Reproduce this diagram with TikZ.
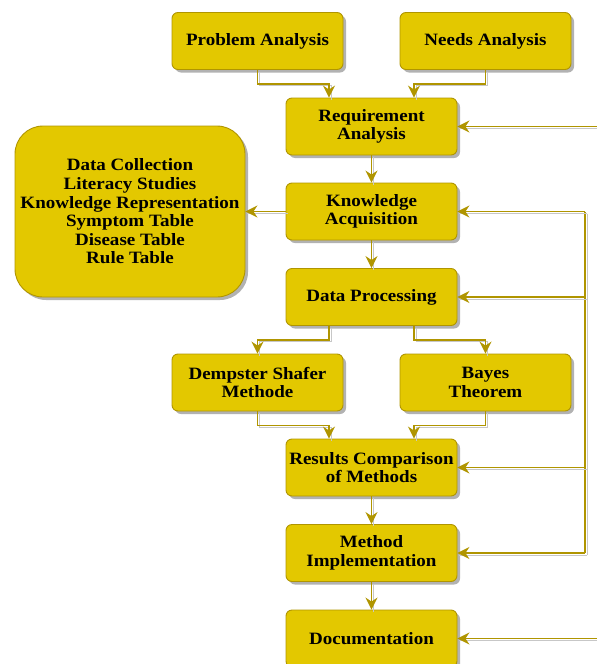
\documentclass[tikz,border=0pt]{standalone}
\usepackage{fontspec}
\setmainfont{Liberation Serif}[FakeStretch=1.1]
\usetikzlibrary{arrows.meta,shadows,positioning}
\definecolor{boxfill}{HTML}{E3C800}
\definecolor{boxline}{HTML}{B09500}
\tikzset{
  box/.style={rectangle, rounded corners=6pt, draw=boxline, fill=boxfill, line width=0.9pt,
    minimum width=171pt, minimum height=57pt, inner sep=2pt, align=center,
    font=\fontsize{17.3}{18.6}\selectfont\bfseries,
    drop shadow={shadow xshift=3pt, shadow yshift=-3pt, opacity=0.3, fill=black}},
  bigbox/.style={box, rounded corners=28pt, minimum width=230pt, minimum height=171pt},
  conn/.style={draw=boxline, line width=1.1pt, -{Stealth[length=12pt,width=12pt,inset=4pt]},
    preaction={draw=black!22, line width=1pt, -, transform canvas={xshift=2pt,yshift=-2pt}}},
}
\begin{document}
\begin{tikzpicture}[x=1pt,y=-1pt]
\useasboundingbox (0,0) rectangle (597,664);
\node[box] (PA) at (257.5,41) {Problem Analysis};
\node[box] (NA) at (485.5,41) {Needs Analysis};
\node[box] (RA) at (371.5,126.5) {Requirement\\Analysis};
\node[box] (KA) at (371.5,211.5) {Knowledge\\Acquisition};
\node[bigbox] (BB) at (130,211.5) {Data Collection\\Literacy Studies\\Knowledge Representation\\Symptom Table\\Disease Table\\Rule Table};
\node[box] (DP) at (371.5,297) {Data Processing};
\node[box] (DS) at (257.5,382.5) {Dempster Shafer\\Methode};
\node[box] (BT) at (485.5,382.5) {Bayes\\Theorem};
\node[box] (RC) at (371.5,467.5) {Results Comparison\\of Methods};
\node[box] (MI) at (371.5,553) {Method\\Implementation};
\node[box] (DOC) at (371.5,638.5) {Documentation};
\coordinate (edge) at (597,0);
\coordinate (bus) at (585,0);
% top
\draw[conn] (PA.south) -- ++(0,14) -| ([xshift=-42.5pt]RA.north);
\draw[conn] (NA.south) -- ++(0,14) -| ([xshift=42.5pt]RA.north);
\draw[conn] (edge |- RA.east) -- (RA.east);
\draw[conn] (RA.south) -- (KA.north);
\draw[conn] (KA.west) -- (BB.east);
\draw[conn] (KA.south) -- (DP.north);
\draw[conn] ([xshift=-42.5pt]DP.south) -- ++(0,14) -| (DS.north);
\draw[conn] ([xshift=42.5pt]DP.south) -- ++(0,14) -| (BT.north);
\draw[conn] (DS.south) -- ++(0,14) -| ([xshift=-42.5pt]RC.north);
\draw[conn] (BT.south) -- ++(0,14) -| ([xshift=42.5pt]RC.north);
\draw[conn] (RC.south) -- (MI.north);
\draw[conn] (MI.south) -- (DOC.north);
% right bus
\draw[draw=boxline, line width=1.1pt, preaction={draw=black!22, line width=1pt, transform canvas={xshift=2pt,yshift=-2pt}}] (bus |- KA.east) -- (bus |- MI.east);
\draw[conn] (bus |- KA.east) -- (KA.east);
\draw[conn] (bus |- DP.east) -- (DP.east);
\draw[conn] (bus |- RC.east) -- (RC.east);
\draw[conn] (bus |- MI.east) -- (MI.east);
\draw[conn] (edge |- DOC.east) -- (DOC.east);
\end{tikzpicture}
\end{document}
